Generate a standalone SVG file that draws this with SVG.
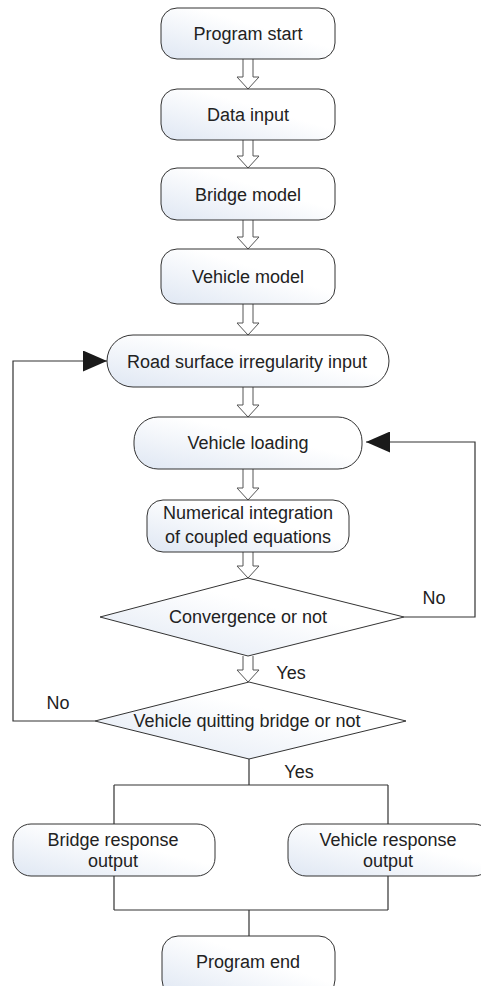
<svg xmlns="http://www.w3.org/2000/svg" width="481" height="986" viewBox="0 0 481 986">
<defs>
<linearGradient id="g" x1="0" y1="1" x2="1" y2="0">
<stop offset="0" stop-color="#dfe7f3"/>
<stop offset="0.6" stop-color="#ffffff"/>
<stop offset="1" stop-color="#ffffff"/>
</linearGradient>
<marker id="ah" markerWidth="24" markerHeight="21" refX="24" refY="10.5" orient="auto" markerUnits="userSpaceOnUse">
<path d="M0,0 L24,10.5 L0,21 Z" fill="#1a1a1a"/>
</marker>
</defs>
<style>
.n{fill:url(#g);stroke:#333;stroke-width:1}
.t{font-family:"Liberation Sans",Arial,sans-serif;font-size:18px;fill:#222;text-anchor:middle}
.c{fill:none;stroke:#333;stroke-width:1.2}
.h{fill:#fff;stroke:#555;stroke-width:1}
</style>
<rect width="481" height="986" fill="#fff"/>
<g id="connectors">
<path class="h" d="M243,59 V77 H237 L248,89 L259,77 H253 V59"/>
<path class="h" d="M243,140 V156 H237 L248,168 L259,156 H253 V140"/>
<path class="h" d="M243,220 V237 H237 L248,249 L259,237 H253 V220"/>
<path class="h" d="M243,304 V323 H237 L248,335 L259,323 H253 V304"/>
<path class="h" d="M243,387 V405 H237 L248,417 L259,405 H253 V387"/>
<path class="h" d="M243,469 V488 H237 L248,500 L259,488 H253 V469"/>
<path class="h" d="M243,552 V566 H237 L248,578 L259,566 H253 V552"/>
<path class="h" d="M243,656 V670 H237 L248,682 L259,670 H253 V656"/>
<path class="c" d="M404,617 H475 V442 H366" marker-end="url(#ah)"/>
<path class="c" d="M95,721 H13 V361 H107" marker-end="url(#ah)"/>
<path class="c" d="M249,759 V785 M114,785 H388 M114,785 V824 M388,785 V824 M114,876 V910 M388,876 V910 M114,910 H388 M249,910 V936"/>
<text class="t" x="291" y="679">Yes</text>
<text class="t" x="434" y="604">No</text>
<text class="t" x="58" y="709">No</text>
<text class="t" x="299" y="778">Yes</text>
</g>
<g id="n1"><rect class="n" x="161" y="8" width="174" height="51" rx="16"/><text class="t" x="248" y="40">Program start</text></g>
<g id="n2"><rect class="n" x="161" y="89" width="174" height="51" rx="16"/><text class="t" x="248" y="121">Data input</text></g>
<g id="n3"><rect class="n" x="161" y="168" width="174" height="52" rx="16"/><text class="t" x="248" y="201">Bridge model</text></g>
<g id="n4"><rect class="n" x="161" y="249" width="174" height="55" rx="16"/><text class="t" x="248" y="283">Vehicle model</text></g>
<g id="n5"><rect class="n" x="107" y="335" width="282" height="52" rx="26"/><text class="t" x="247" y="368">Road surface irregularity input</text></g>
<g id="n6"><rect class="n" x="134" y="417" width="228" height="52" rx="24"/><text class="t" x="248" y="449">Vehicle loading</text></g>
<g id="n7"><rect class="n" x="147" y="500" width="202" height="52" rx="16"/><text class="t" x="248" y="519">Numerical integration</text><text class="t" x="248" y="543">of coupled equations</text></g>
<g id="n8"><polygon class="n" points="100,617 248,578 404,617 248,656"/><text class="t" x="248" y="623">Convergence or not</text></g>
<g id="n9"><polygon class="n" points="95,721 249,682 406,721 249,759"/><text class="t" x="247" y="727">Vehicle quitting bridge or not</text></g>
<g id="n10"><rect class="n" x="13" y="824" width="202" height="52" rx="18"/><text class="t" x="113" y="846">Bridge response</text><text class="t" x="113" y="867">output</text></g>
<g id="n11"><rect class="n" x="288" y="824" width="204" height="52" rx="18"/><text class="t" x="388" y="846">Vehicle response</text><text class="t" x="388" y="867">output</text></g>
<g id="n12"><rect class="n" x="162" y="936" width="173" height="60" rx="16"/><text class="t" x="248" y="968">Program end</text></g>
</svg>
